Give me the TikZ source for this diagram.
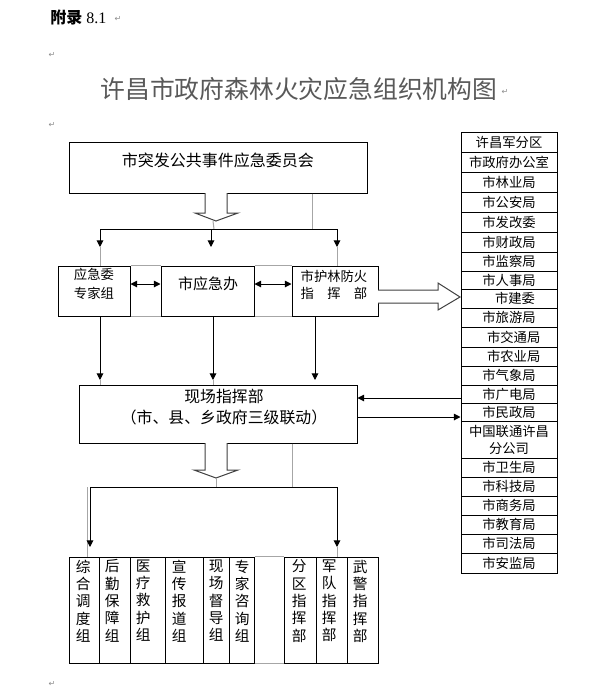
\documentclass[tikz,border=0pt]{standalone}
\usepackage{fontspec}
\setmainfont{Liberation Serif}
\newfontfamily\cjk{Noto Sans CJK SC}
\newfontfamily\dv{DejaVu Sans}
\usetikzlibrary{arrows.meta,fit}
\tikzset{
  box/.style={draw=black, line width=0.75pt, inner sep=0pt, fill=white},
  arr/.style={-{Triangle[length=5pt,width=5pt]}, line width=0.75pt},
  darr/.style={{Triangle[length=5pt,width=5pt]}-{Triangle[length=5pt,width=5pt]}, line width=0.75pt},
  gl/.style={draw=black!35, line width=0.75pt},
  pmark/.style={font=\dv\fontsize{6}{6}\selectfont, text=black!45, inner sep=0pt},
  rt/.style={inner sep=0pt, font=\cjk\fontsize{10}{12.75}\selectfont, align=center},
  vtext/.style={font=\cjk\fontsize{11}{13}\selectfont, align=left, inner sep=0pt, anchor=north west},
  txt/.style={inner sep=0pt, align=center},
  barrow/.style={draw=black!75, fill=white, line width=0.75pt},
}
\begin{document}
\begin{tikzpicture}[x=0.75pt, y=-0.75pt]
\useasboundingbox (0,0) rectangle (602,687);

% header and title
\node[anchor=west, inner sep=0pt] (hdr) at (50,17) {{\cjk\fontsize{12}{14}\selectfont\bfseries 附录}\fontsize{12}{14}\selectfont\ 8.1};
\node[txt, text=black!65, font=\cjk\fontsize{18.6}{20}\selectfont] (title) at (299,89) {许昌市政府森林火灾应急组织机构图};
\node[pmark] (p1) at (118,19) {↵};
\node[pmark] (p2) at (52,55) {↵};
\node[pmark] (p3) at (505,92) {↵};
\node[pmark] (p4) at (52,125) {↵};
\node[pmark] (p5) at (52,684) {↵};

% top box
\node[box, fit={(69,142) (367,193)}] (top) {};
\node[txt, font=\cjk\fontsize{12}{14}\selectfont] (topt) at (218,160) {市突发公共事件应急委员会};

% coordinates
\coordinate (busL) at (100,229);
\coordinate (busM) at (211,229);
\coordinate (busR) at (337,229);
\coordinate (g1) at (312,229);
\coordinate (gm) at (214,229);
\coordinate (tipL) at (100,247);
\coordinate (tipM) at (211,247);
\coordinate (tipR) at (337,247);
\coordinate (Y284) at (0,284);

% middle boxes
\node[box, fit={(58,266) (130,316)}] (m1) {};
\node[txt, font=\cjk\fontsize{10}{14.25}\selectfont] (m1t) at (94,283.5) {应急委\\专家组};
\node[box, fit={(161,266) (254,316)}] (m2) {};
\node[txt, font=\cjk\fontsize{11.25}{14}\selectfont] (m2t) at (208,284) {市应急办};
\node[box, fit={(292,266) (378,316)}] (m3) {};
\node[txt, font=\cjk\fontsize{10}{12.75}\selectfont] (m3t) at (334,284.5) {市护林防火\\指　挥　部};

% gray guide lines (top part)
\draw[gl] (top.south -| g1) -- (g1);
\draw[gl] (213,221) -- (gm);
\draw[gl] (tipL) -- (m1.north -| tipL);
\draw[gl] (tipR) -- (m3.north -| tipR);
\draw[gl] (m1.north east) -- (m2.north west);
\draw[gl] (m2.north east) -- (m3.north west);
\draw[gl] (m1.south east) -- (m2.south west);
\draw[gl] (m2.south east) -- (m3.south west);

% block arrow down 1
\draw[barrow] (205,193) -- (205,213) -- (195,213) -- (216,221) -- (238,213) -- (227,213) -- (227,193);

% bus and arrows
\draw[line width=0.75pt] (busL) -- (busR);
\draw[arr] (busL) -- (tipL);
\draw[arr] (busM) -- (tipM);
\draw[arr] (busR) -- (tipR);
\draw[darr] (m1.east |- Y284) -- (m2.west |- Y284);
\draw[darr] (m2.east |- Y284) -- (m3.west |- Y284);

% right list
\foreach \n/\a/\b/\t in {r1/132/152/{许昌军分区}, r2/152/172/{市政府办公室}, r3/172/192/{市林业局}, r4/192/212/{市公安局}, r5/212/232/{市发改委}, r6/232/252/{市财政局}, r7/252/271/{市监察局}, r8/271/289/{市人事局}, r9/289/308/{\hspace*{9pt}市建委}, r10/308/327/{市旅游局}, r11/327/347/{\hspace*{7pt}市交通局}, r12/347/366/{\hspace*{7pt}市农业局}, r13/366/385/{市气象局}, r14/385/403/{市广电局}, r15/403/421/{市民政局}, r17/458/477/{市卫生局}, r18/477/496/{市科技局}, r19/496/515/{市商务局}, r20/515/534/{市教育局}, r21/534/553/{市司法局}, r22/553/573/{市安监局}}{
  \node[box, fit={(461,\a) (557,\b)}] (\n) {};
  \node[rt] (\n t) at (\n.center) {\t};
}
\node[box, fit={(461,421) (557,458)}] (r16) {};
\node[rt] (r16t) at (r16.center) {中国联通许昌\\分公司};

% block arrow right
\draw[barrow] (378,290) -- (438,290) -- (438,283) -- (460,297) -- (438,310) -- (438,303) -- (378,303);

% on-site command
\node[box, fit={(79,385) (357,443)}] (sc) {};
\node[txt, font=\cjk\fontsize{11.9}{15.75}\selectfont] (sct) at (224,407.5) {现场指挥部\\（市、县、乡政府三级联动）};

\coordinate (c1) at (100,380);
\coordinate (c2) at (213,380);
\coordinate (c3) at (315,380);
\draw[arr] (m1.south -| c1) -- (c1);
\draw[arr] (m2.south -| c2) -- (c2);
\draw[arr] (m3.south -| c3) -- (c3);
\draw[gl] (c1) -- (sc.north -| c1);
\draw[gl] (c2) -- (sc.north -| c2);

\coordinate (Y398) at (0,398);
\coordinate (Y417) at (0,417);
\draw[arr] (r14.west |- Y398) -- (sc.east |- Y398);
\draw[arr] (sc.east |- Y417) -- (r15.west |- Y417);

% block arrow down 2
\draw[barrow] (205,443) -- (205,470) -- (194,470) -- (216,478) -- (238,470) -- (227,470) -- (227,443);

% bottom bus
\coordinate (bL) at (90,487);
\coordinate (bR) at (337,487);
\coordinate (g2) at (292,487);
\coordinate (gb) at (216,487);
\coordinate (gL) at (87,487);
\coordinate (tL) at (90,547);
\coordinate (tR) at (337,547);
\draw[gl] (sc.south -| g2) -- (g2);
\draw[gl] (216,478) -- (gb);

% bottom boxes
\foreach \n/\a/\b in {b1/69/99, b2/99/130, b3/130/165, b4/165/203, b5/203/229, b6/229/254, b7/284/316, b8/316/347, b9/347/378}{
  \node[box, fit={(\a,557) (\b,663)}] (\n) {};
}
\draw[gl] (gL) -- (b1.north -| gL);
\draw[gl] (tR) -- (b8.north -| tR);
\draw[gl] (b6.north east) -- (b7.north west);
\draw[gl] (b6.south east) -- (b7.south west);
\draw[line width=0.75pt] (bL) -- (bR);
\draw[arr] (bL) -- (tL);
\draw[arr] (bR) -- (tR);

\node[vtext] (t1) at ([shift={(7,3)}]b1.north west) {综\\合\\调\\度\\组};
\node[vtext] (t2) at ([shift={(6,3)}]b2.north west) {后\\勤\\保\\障\\组};
\node[vtext] (t3) at ([shift={(6,3)}]b3.north west) {医\\疗\\救\\护\\组};
\node[vtext] (t4) at ([shift={(7,3)}]b4.north west) {宣\\传\\报\\道\\组};
\node[vtext] (t5) at ([shift={(6,3)}]b5.north west) {现\\场\\督\\导\\组};
\node[vtext] (t6) at ([shift={(6,3)}]b6.north west) {专\\家\\咨\\询\\组};
\node[vtext] (t7) at ([shift={(8,3)}]b7.north west) {分\\区\\指\\挥\\部};
\node[vtext] (t8) at ([shift={(6,3)}]b8.north west) {军\\队\\指\\挥\\部};
\node[vtext] (t9) at ([shift={(6,3)}]b9.north west) {武\\警\\指\\挥\\部};
\end{tikzpicture}
\end{document}
